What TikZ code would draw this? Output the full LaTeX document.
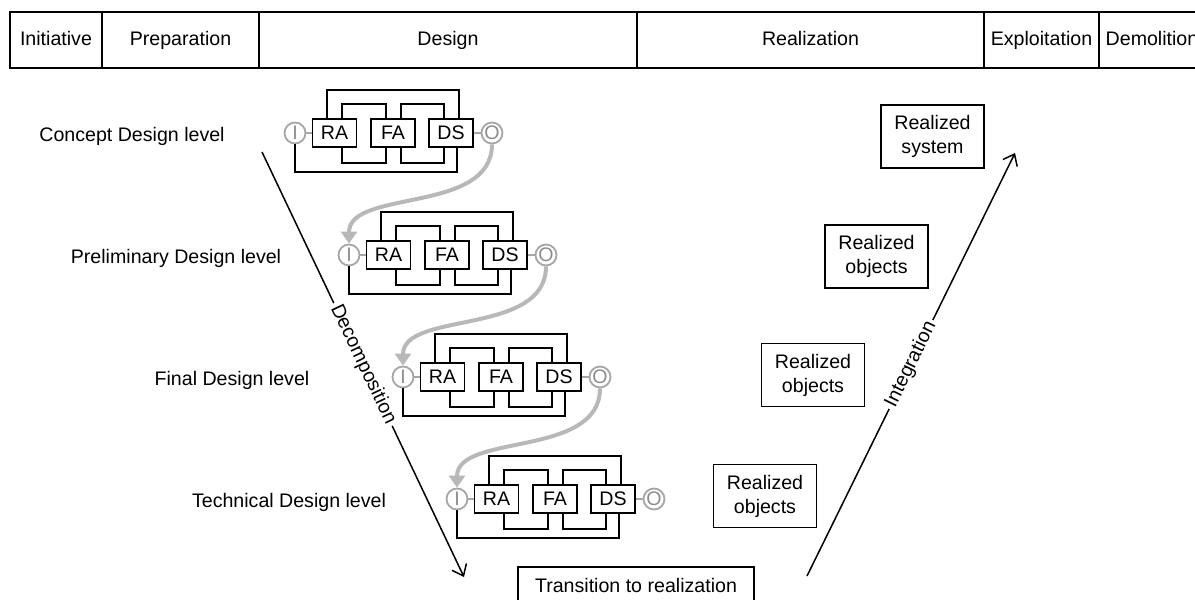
\documentclass[tikz,border=0pt]{standalone}
\usepackage{fontspec}
\setmainfont{Liberation Sans}
\usetikzlibrary{arrows.meta,calc,positioning}

\begin{document}
\begin{tikzpicture}[x=0.5pt,y=-0.5pt,font=\fontsize{9.8}{12}\selectfont,line width=0.9pt]

    \tikzset{
      phase/.style={
        draw,
        anchor=north west,
        outer sep=0pt,
        inner sep=0pt,
        text height=7pt,
        text depth=2pt,
        minimum height=28pt,
      },
      fnbox/.style={draw, inner sep=0pt, minimum width=22pt, minimum height=14pt},
      port/.style={circle, draw=black!35, text=black!45, inner sep=0pt, minimum size=10.5pt},
      result/.style={draw, align=center, inner sep=0pt, minimum width=51.5pt, minimum height=31.5pt},
      flow/.style={draw=black!28, line width=2pt, -{Triangle[length=6pt,width=8pt]}},
      link/.style={draw=black!35, line width=0.6pt},
    }
    \clip (0,0) rectangle (1195,600);

    % phases
    \node[phase, minimum width=46pt] (ini) at (10,12) {Initiative};
    \node[phase, minimum width=78.5pt] (prep) at (ini.north east) {Preparation};
    \node[phase, minimum width=189pt] (des) at (prep.north east) {Design};
    \node[phase, minimum width=173.5pt] (real) at (des.north east) {Realization};
    \node[phase, minimum width=57.5pt] (expl) at (real.north east) {Exploitation};
    \node[phase, minimum width=53pt] (demo) at (expl.north east) {Demolition};

    % design levels
    \foreach \n/\ix/\iy/\lx/\lab in {1/295/133/132/Concept Design level,
        2/349/255/176/Preliminary Design level,
        3/403/377/232/Final Design level,
        4/457/499/289/Technical Design level}{
      \node (lab\n) at (\lx,\iy+3) {\lab};
      \node[port] (I\n) at (\ix,\iy) {I};
      \node[fnbox] (RA\n) at (\ix+39.5,\iy) {RA};
      \node[fnbox] (FA\n) at (\ix+98,\iy) {FA};
      \node[fnbox] (DS\n) at (\ix+156,\iy) {DS};
      \node[port] (O\n) at (\ix+197,\iy) {O};
      \draw[link] (I\n) -- (RA\n);
      \draw[link] (DS\n) -- (O\n);
      \draw ($(RA\n.north)+(-7.5,0)$) |- ($(DS\n.north)+(8,-28)$) -- ++(0,28);
      \draw ($(RA\n.north)+(7.5,0)$) |- ($(FA\n.north)+(-7,-14)$) -- ++(0,14);
      \draw ($(FA\n.north)+(8,0)$) |- ($(DS\n.north)+(-7,-14)$) -- ++(0,14);
      \draw ($(RA\n.south)+(7.5,0)$) |- ($(FA\n.south)+(-7,15)$) -- ++(0,-15);
      \draw ($(FA\n.south)+(8,0)$) |- ($(DS\n.south)+(-7,15)$) -- ++(0,-15);
      \draw (I\n.south) |- ($(DS\n.south)+(6,24)$) -- ++(0,-24);
    }
    \foreach \a/\b in {1/2,2/3,3/4}
      \draw[flow] (O\a.south) .. controls +(0,70) and +(0,-55) .. (I\b.north);

    % realized side
    \node[result] (sys) at (932.5,136.5) {Realized\\system};
    \node[result] (obj1) at (876.5,256.5) {Realized\\objects};
    \node[result] (obj2) at (813,375) {Realized\\objects};
    \node[result] (obj3) at (765,496) {Realized\\objects};
    \node[draw, inner sep=0pt, minimum width=118pt, minimum height=18pt] (trans) at (636,585) {Transition to realization};

    \coordinate (decTop) at (262,152);
    \coordinate (decEnd) at (464,577);
    \coordinate (intStart) at (807,576);
    \coordinate (intTop) at (1015,153);
    \draw[line width=0.75pt, -{Straight Barb[length=5pt,width=8pt]}] (decTop) -- node[sloped, fill=white, inner sep=1.5pt] {Decomposition} (decEnd);
    \draw[line width=0.75pt, -{Straight Barb[length=5pt,width=8pt]}] (intStart) -- node[sloped, fill=white, inner sep=1.5pt] {Integration} (intTop);

\end{tikzpicture}
\end{document}
